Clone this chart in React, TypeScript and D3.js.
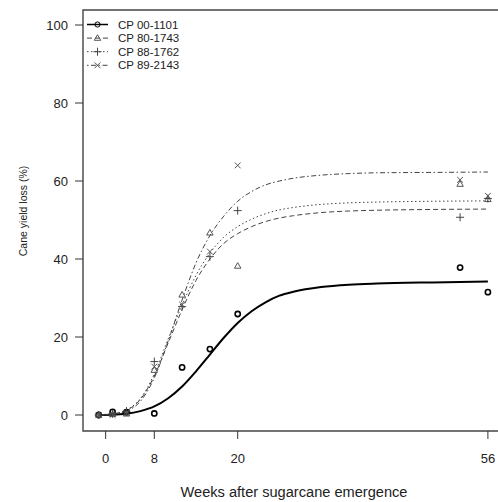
import React from "react";
import * as d3 from "d3";

// ---- Data ----
const cultivars = ["CP 00-1101", "CP 80-1743", "CP 88-1762", "CP 89-2143"];
const obsWeeks = [0, 2, 4, 8, 12, 16, 20, 52, 56];
const obs00_1101 = [0, 0.8, 0.7, 0.4, 12.2, 16.9, 25.9, 37.8, 31.5];
const obs80_1743 = [0, 0.2, 0.3, 11.5, 30.8, 46.7, 38.2, 59.2, 55.3];
const obs88_1762 = [0, 0.3, 1.0, 13.7, 27.8, 40.6, 52.4, 50.7, 55.5];
const obs89_2143 = [0, 0, 0.5, 12.4, 28.3, 41.9, 64.0, 60.3, 56.2];

// fitted curves
const fitWeeks = [0, 2, 4, 6, 8, 10, 12, 14, 16, 18, 20, 22, 24, 26, 28, 32, 36, 40, 48, 56];
const fit00_1101 = [0, 0.05, 0.3, 1.0, 2.2, 4.3, 7.3, 11.2, 15.5, 19.8, 23.6, 26.6, 28.9, 30.6, 31.6, 32.8, 33.4, 33.7, 34.0, 34.2];
const fit80_1743 = [0, 0.3, 1.2, 4.0, 10.0, 18.5, 27.0, 34.5, 40.0, 44.0, 46.5, 48.3, 49.6, 50.5, 51.1, 51.9, 52.3, 52.5, 52.7, 52.8];
const fit88_1762 = [0, 0.3, 1.3, 4.2, 10.5, 19.5, 28.2, 35.8, 41.5, 45.6, 48.3, 50.2, 51.6, 52.6, 53.2, 54.0, 54.4, 54.6, 54.8, 54.9];
const fit89_2143 = [0, 0.2, 1.0, 3.5, 9.5, 19.0, 29.5, 39.0, 46.0, 51.0, 54.8, 57.3, 59.0, 60.0, 60.7, 61.5, 61.9, 62.1, 62.2, 62.3];

const xTickValues = [1, 8, 20, 56];
const xTickLabels = ["0", "8", "20", "56"];
const yTickValues = [0, 20, 40, 60, 80, 100];

const xTitle = "Weeks after sugarcane emergence";
const yTitle = "Cane yield loss (%)";

// ---- Styles ----
const obsSeries = [obs00_1101, obs80_1743, obs88_1762, obs89_2143];
const fitSeries = [fit00_1101, fit80_1743, fit88_1762, fit89_2143];
const shapes = ["circle", "triangle", "plus", "cross"];
const dashes = ["none", "5,3", "1.5,2.5", "1.5,2.5,5,2.5"];
const lineWidths = [2, 1, 1, 1];
const lineColors = ["#000", "#444", "#444", "#444"];
const markColors = ["#000", "#555", "#444", "#555"];
const markWidths = [1.6, 1, 1, 1];

const FONT = "'Liberation Sans', Arial, sans-serif";

function Marker({ shape, x, y, color, sw }: any) {
  if (shape === "circle")
    return <circle cx={x} cy={y} r={2.6} fill="none" stroke={color} strokeWidth={sw} />;
  if (shape === "triangle") {
    const s = 3.4;
    return (
      <path
        d={`M${x},${y - s}L${x + s * 0.95},${y + s * 0.65}L${x - s * 0.95},${y + s * 0.65}Z`}
        fill="none"
        stroke={color}
        strokeWidth={sw}
      />
    );
  }
  if (shape === "plus") {
    const s = 4;
    return (
      <path d={`M${x - s},${y}H${x + s}M${x},${y - s}V${y + s}`} stroke={color} strokeWidth={sw} />
    );
  }
  const s = 2.9;
  return (
    <path
      d={`M${x - s},${y - s}L${x + s},${y + s}M${x - s},${y + s}L${x + s},${y - s}`}
      stroke={color}
      strokeWidth={sw}
    />
  );
}

export default function App() {
  const W = 498;
  const H = 502;
  const x = d3.scaleLinear().domain([0, 56]).range([98.7, 487.9]);
  const y = d3.scaleLinear().domain([0, 100]).range([415, 25]);
  const box = { left: 83, top: 10, bottom: 431, right: 502 };

  const line = d3
    .line<[number, number]>()
    .x((d) => x(d[0]))
    .y((d) => y(d[1]))
    .curve(d3.curveMonotoneX);

  const legX1 = 87;
  const legX2 = 108;
  const legText = 118;
  const legY0 = 24.5;
  const legStep = 13.6;

  return (
    <svg
      width={W}
      height={H}
      style={{ position: "absolute", left: 0, top: 0, background: "#fff" }}
      fontFamily={FONT}
    >
      <rect x={0} y={0} width={W} height={H} fill="#fff" />
      {/* box */}
      <path
        d={`M${box.right},${box.top}H${box.left}V${box.bottom}H${box.right}`}
        fill="none"
        stroke="#444"
        strokeWidth={1.4}
      />
      {/* y axis */}
      {yTickValues.map((v) => (
        <g key={"y" + v}>
          <line x1={75} x2={box.left} y1={y(v)} y2={y(v)} stroke="#333" strokeWidth={1} />
          <text x={68} y={y(v)} textAnchor="end" dominantBaseline="central" fontSize={13} fill="#222">
            {v}
          </text>
        </g>
      ))}
      {/* x axis */}
      {xTickValues.map((v, i) => (
        <g key={"x" + v}>
          <line x1={x(v)} x2={x(v)} y1={box.bottom} y2={box.bottom + 8} stroke="#333" strokeWidth={1} />
          <text x={x(v)} y={458} textAnchor="middle" dominantBaseline="central" fontSize={13} fill="#222">
            {xTickLabels[i]}
          </text>
        </g>
      ))}
      <text
        x={294}
        y={492}
        textAnchor="middle"
        dominantBaseline="central"
        fontSize={14}
        fill="#222"
        textLength={227}
        lengthAdjust="spacingAndGlyphs"
      >
        {xTitle}
      </text>
      <text
        transform={`translate(23,211) rotate(-90)`}
        textAnchor="middle"
        dominantBaseline="central"
        fontSize={10.5}
        fill="#222"
      >
        {yTitle}
      </text>

      {/* fitted curves */}
      {fitSeries.map((vals, i) => (
        <path
          key={"f" + i}
          d={line(fitWeeks.map((w, j) => [w, vals[j]]) as [number, number][]) || ""}
          fill="none"
          stroke={lineColors[i]}
          strokeWidth={lineWidths[i]}
          strokeDasharray={dashes[i]}
        />
      ))}

      {/* observations */}
      {obsSeries.map((vals, i) =>
        vals.map((v, j) => (
          <Marker
            key={"m" + i + "-" + j}
            shape={shapes[i]}
            x={x(obsWeeks[j])}
            y={y(v)}
            color={markColors[i]}
            sw={markWidths[i]}
          />
        ))
      )}

      {/* legend */}
      {cultivars.map((c, i) => {
        const ly = legY0 + i * legStep;
        return (
          <g key={"l" + i}>
            <line
              x1={legX1}
              x2={legX2}
              y1={ly}
              y2={ly}
              stroke={lineColors[i]}
              strokeWidth={lineWidths[i] === 2 ? 1.5 : 1}
              strokeDasharray={dashes[i]}
            />
            <Marker shape={shapes[i]} x={(legX1 + legX2) / 2} y={ly} color={markColors[i]} sw={1} />
            <text x={legText} y={ly} dominantBaseline="central" fontSize={11.5} fill="#222">
              {c}
            </text>
          </g>
        );
      })}
    </svg>
  );
}
